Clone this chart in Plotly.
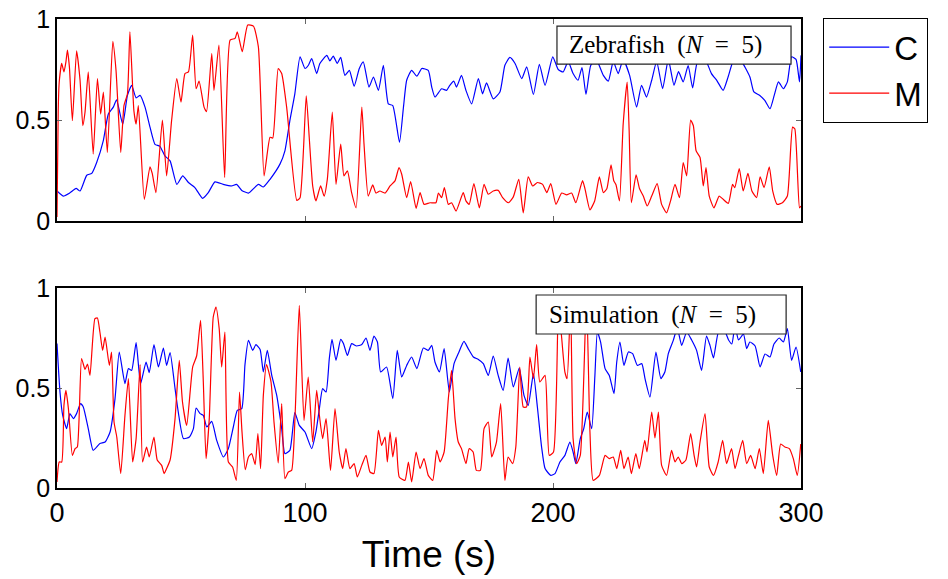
import plotly.graph_objects as go

# ---- Zebrafish experiment (N = 5): time (s) and fraction in each state ----
zf_c_t = [0, 2.5, 5.2, 7.7, 9.3, 12, 14, 16, 18.7, 20.7, 22.7, 24, 26.5, 28.4, 30.1, 31.9, 33.5, 35.5, 37.5, 39.5,
          41.5, 43.5, 45.6, 48.3, 50.7, 53, 55.6, 58.7, 61, 63.7, 67, 70.4, 72.4, 74.5, 77.2, 81.2, 83.2, 85.9, 89.9,
          91.9, 93.9, 95.9, 98, 100, 101.3, 102.7, 104.7, 106, 108.8, 110, 111.4, 113, 114.4, 116.1, 117.9, 119.8,
          121.9, 123.5, 125.8, 127.6, 129.6, 131.6, 133.6, 135.4, 138.1, 139.7, 141, 143, 145.1, 147.1, 149.7, 151.1,
          152.4, 155.1, 157.1, 158.4, 160, 161.1, 163.1, 164.9, 167.2, 169.9, 171.6, 173.2, 175.9, 178.6, 180.6,
          182.6, 184.7, 187.4, 189.4, 192.1, 194.5, 196.8, 199.9, 202.1, 204.1, 206.1, 208.1, 210.1, 211.7, 213.3,
          215.2, 217.4, 220.3, 222.3, 224.3, 226.3, 228.3, 230.9, 233.7, 235.7, 237.7, 239.8, 241.8, 244.2, 246.5,
          248.8, 250.6, 252.5, 254.5, 256.3, 258.3, 261.3, 263.9, 266.2, 268.6, 270.6, 272.6, 274, 276, 279.4, 281,
          283.4, 285.4, 287.5, 289.2, 290.9, 292.9, 294.5, 296.2, 298, 299.4, 300]
zf_c_v = [0.149, 0.124, 0.14, 0.162, 0.149, 0.227, 0.236, 0.29, 0.40, 0.53, 0.564, 0.6, 0.48, 0.622, 0.672, 0.61,
          0.622, 0.564, 0.465, 0.38, 0.37, 0.323, 0.298, 0.182, 0.224, 0.191, 0.166, 0.113, 0.141, 0.194, 0.182,
          0.174, 0.182, 0.152, 0.139, 0.182, 0.169, 0.207, 0.282, 0.348, 0.497, 0.63, 0.813, 0.755, 0.77, 0.804,
          0.73, 0.78, 0.82, 0.793, 0.816, 0.78, 0.81, 0.721, 0.746, 0.667, 0.755, 0.788, 0.663, 0.713, 0.647, 0.771,
          0.58, 0.572, 0.39, 0.564, 0.697, 0.746, 0.717, 0.755, 0.746, 0.663, 0.614, 0.655, 0.647, 0.672, 0.693,
          0.663, 0.721, 0.647, 0.58, 0.705, 0.63, 0.684, 0.605, 0.639, 0.771, 0.81, 0.78, 0.705, 0.763, 0.627,
          0.776, 0.672, 0.813, 0.75, 0.738, 0.79, 0.73, 0.697, 0.76, 0.627, 0.77, 0.8, 0.721, 0.693, 0.79, 0.73,
          0.8, 0.721, 0.564, 0.672, 0.614, 0.697, 0.79, 0.655, 0.8, 0.672, 0.74, 0.689, 0.77, 0.659, 0.79, 0.8,
          0.73, 0.693, 0.647, 0.713, 0.79, 0.8, 0.79, 0.713, 0.639, 0.622, 0.597, 0.556, 0.622, 0.689, 0.655, 0.689,
          0.813, 0.8, 0.689, 0.82]

zf_m_t = [0, 0.5, 0.9, 1.9, 2.8, 3.6, 4.2, 5, 6.2, 7.9, 9.3, 10.4, 11.3, 12.6, 14.6, 16.3, 17.6, 18.7, 20.3, 22.5,
          23.8, 25.7, 27, 28.4, 29.4, 31, 31.9, 32.8, 35.2, 37.5, 38.4, 39.9, 42.5, 44.2, 46.2, 48.3, 50, 51.6, 53,
          54.7, 56.1, 57.3, 59.3, 60.3, 62.4, 63.3, 65.3, 67.6, 69.8, 71.8, 72.7, 74.7, 76.9, 79.2, 81.2, 83.5, 85.9,
          87, 89.2, 90.6, 92.6, 96.7, 98, 100.5, 101.7, 103.1, 104.4, 106.3, 107.7, 109, 111, 112.5, 114.4, 115.7,
          117.1, 118.8, 120.6, 122.9, 123.8, 125.5, 127.3, 128.6, 130.2, 132.3, 134.3, 136.3, 137.9, 139, 141, 142.6,
          144.8, 146.4, 148, 150.4, 152.8, 153.8, 155.1, 156.2, 157.8, 159.1, 160.9, 163.8, 164.9, 166.2, 168.1,
          170.3, 172.2, 173.9, 175.9, 177.9, 179.7, 182, 184, 186.2, 188, 190, 191.8, 193.7, 195.8, 197.5, 199.1,
          201.2, 203.5, 205.5, 207.5, 209.2, 211.9, 212.9, 214.9, 216.8, 218.7, 220.3, 221.7, 223.4, 224.5, 225.4,
          226.8, 228.3, 229.9, 230.7, 231.6, 233.5, 234.9, 236.4, 238, 239.8, 242, 243.8, 245.8, 247.4, 249.2, 251,
          252.5, 253.9, 255.5, 256.6, 257.7, 259.3, 260.6, 261.7, 263, 264.9, 267, 268.6, 270.7, 272.4, 273.3,
          275.1, 276.7, 278.6, 280.2, 282.1, 283.5, 285.1, 287.2, 288.6, 290.4, 292.5, 294.5, 296.6, 297.5, 299.4,
          300]
zf_m_v = [0.02, 0.55, 0.688, 0.78, 0.738, 0.788, 0.846, 0.763, 0.497, 0.843, 0.697, 0.472, 0.539, 0.738, 0.332,
          0.705, 0.53, 0.638, 0.34, 0.889, 0.746, 0.34, 0.572, 0.63, 0.937, 0.547, 0.48, 0.572, 0.108, 0.269, 0.236,
          0.141, 0.5, 0.224, 0.497, 0.705, 0.589, 0.73, 0.738, 0.92, 0.655, 0.693, 0.564, 0.542, 0.829, 0.647,
          0.871, 0.216, 0.896, 0.904, 0.937, 0.838, 0.97, 0.965, 0.862, 0.224, 0.415, 0.411, 0.755, 0.73, 0.564,
          0.103, 0.116, 0.62, 0.415, 0.174, 0.1, 0.174, 0.124, 0.207, 0.539, 0.182, 0.381, 0.224, 0.249, 0.141,
          0.066, 0.564, 0.381, 0.124, 0.179, 0.139, 0.149, 0.139, 0.174, 0.199, 0.265, 0.232, 0.116, 0.196, 0.063,
          0.141, 0.083, 0.091, 0.091, 0.139, 0.116, 0.166, 0.083, 0.091, 0.05, 0.141, 0.1, 0.083, 0.186, 0.066,
          0.182, 0.133, 0.149, 0.152, 0.116, 0.091, 0.12, 0.207, 0.041, 0.219, 0.174, 0.191, 0.182, 0.141, 0.186,
          0.083, 0.139, 0.13, 0.139, 0.091, 0.2, 0.16, 0.056, 0.1, 0.219, 0.141, 0.16, 0.279, 0.2, 0.18, 0.1, 0.48,
          0.688, 0.45, 0.091, 0.229, 0.16, 0.124, 0.075, 0.124, 0.186, 0.083, 0.041, 0.1, 0.182, 0.116, 0.29,
          0.224, 0.5, 0.472, 0.348, 0.315, 0.174, 0.265, 0.124, 0.066, 0.124, 0.108, 0.088, 0.182, 0.166, 0.26,
          0.149, 0.236, 0.149, 0.116, 0.219, 0.166, 0.269, 0.149, 0.083, 0.091, 0.124, 0.465, 0.457, 0.066, 0.075]

# ---- Simulation (N = 5) ----
sim_c_t = [0, 1.2, 2.3, 3.9, 5.2, 6.6, 7.9, 9.5, 10.6, 12.6, 14.6, 17.3, 19.4, 21.4, 23.4, 25.1, 27.4, 28.8, 30.1,
           31.9, 33.7, 35.9, 37.2, 39.1, 40.9, 42.9, 44.2, 45.6, 47.6, 48.9, 51, 53.4, 55, 56.1, 57.7, 59, 60.4,
           62.4, 64.4, 67.1, 69.1, 71.1, 72.7, 74.5, 75.8, 77.2, 78.9, 80.2, 81.9, 83.2, 84.8, 86.6, 88.6, 90.6,
           91.9, 93.9, 95.9, 97.7, 100, 102.7, 104.4, 105.8, 107.1, 108.5, 109.8, 110.9, 112.5, 114.4, 115.5, 117.1,
           118.8, 120.8, 122.9, 124.6, 126.2, 127.8, 129.2, 130.5, 132.9, 135.4, 137.2, 139, 141, 143, 145.1, 147.7,
           149.7, 151.1, 152.4, 154.2, 156.1, 158.2, 160.1, 161.8, 164.1, 165.8, 167.9, 169.9, 171.9, 173.9, 175.9,
           177.9, 179.9, 181.9, 184, 186.4, 188.3, 190, 192.1, 193.7, 195.4, 196.8, 199.1, 200.8, 202.8, 204.8,
           206.8, 208.1, 209.2, 211, 212.4, 213.8, 215.6, 216.9, 217.9, 219.2, 221, 222.7, 224.6, 225.7, 227, 228.6,
           230.4, 232.1, 234, 235.8, 237.1, 239.1, 241.5, 243.5, 245.1, 246.5, 248.5, 250.1, 251.9, 253.9, 255.9,
           257.9, 259.9, 261.9, 263.3, 264.7, 266.7, 268.8, 270.8, 272.1, 273.4, 274.8, 276.8, 278.1, 279.4, 281.5,
           283.5, 285.5, 287.5, 289.1, 291.2, 292.9, 294.5, 296.2, 298, 299.9]
sim_c_v = [0.722, 0.48, 0.363, 0.297, 0.372, 0.347, 0.372, 0.422, 0.405, 0.297, 0.188, 0.222, 0.23, 0.28, 0.447,
           0.68, 0.522, 0.597, 0.588, 0.727, 0.522, 0.63, 0.577, 0.717, 0.605, 0.7, 0.613, 0.677, 0.497, 0.38, 0.247,
           0.255, 0.297, 0.4, 0.372, 0.363, 0.305, 0.333, 0.238, 0.155, 0.197, 0.305, 0.388, 0.397, 0.617, 0.738,
           0.688, 0.717, 0.693, 0.58, 0.688, 0.563, 0.463, 0.297, 0.172, 0.188, 0.377, 0.313, 0.28, 0.197, 0.28,
           0.397, 0.497, 0.48, 0.647, 0.743, 0.638, 0.743, 0.722, 0.663, 0.722, 0.71, 0.717, 0.75, 0.688, 0.76, 0.73,
           0.58, 0.605, 0.447, 0.688, 0.555, 0.613, 0.655, 0.597, 0.7, 0.688, 0.713, 0.63, 0.58, 0.697, 0.48, 0.622,
           0.672, 0.733, 0.697, 0.655, 0.643, 0.622, 0.563, 0.66, 0.563, 0.488, 0.65, 0.505, 0.6, 0.463, 0.413,
           0.572, 0.405, 0.205, 0.097, 0.063, 0.072, 0.13, 0.163, 0.23, 0.18, 0.122, 0.247, 0.297, 0.38, 0.297,
           0.563, 0.78, 0.73, 0.597, 0.563, 0.472, 0.63, 0.73, 0.613, 0.68, 0.672, 0.613, 0.622, 0.547, 0.455, 0.68,
           0.547, 0.58, 0.672, 0.738, 0.8, 0.713, 0.78, 0.74, 0.688, 0.588, 0.76, 0.713, 0.65, 0.78, 0.797, 0.74,
           0.72, 0.81, 0.74, 0.77, 0.697, 0.73, 0.71, 0.605, 0.67, 0.655, 0.72, 0.75, 0.73, 0.797, 0.638, 0.705,
           0.58]

sim_m_t = [0, 0.9, 1.9, 2.8, 3.6, 4.6, 6.2, 7.3, 8.2, 9.9, 11.3, 12.3, 13.3, 15.3, 16.3, 17.3, 18.4, 19.4, 21.1, 22,
           23, 24.1, 25.7, 27.4, 28.8, 30.5, 31.9, 33.5, 34.5, 36.1, 37.2, 39.1, 40.4, 42.2, 43.2, 44.2, 45.6, 47.6,
           49.3, 50.6, 52.3, 54.7, 56.3, 57.9, 59, 60.1, 61.4, 63, 64.1, 65.4, 66.4, 67.7, 69.1, 70.8, 72.3, 73.6,
           74.6, 75.9, 77.2, 78.5, 79.9, 81, 82.1, 83.2, 84.5, 86.3, 87.5, 89.2, 90.6, 91.9, 93.3, 94.6, 96, 97.7,
           99.6, 101.3, 103.1, 104.7, 105.8, 107.1, 108.5, 110.3, 112.1, 113.8, 115.2, 116.5, 118.1, 119.8, 121.1,
           122.9, 124.6, 126.2, 127.8, 129.6, 130.9, 132.3, 133.2, 134.3, 135.4, 136.7, 138, 140.3, 141.7, 143,
           144.8, 146.4, 148, 149.7, 151.5, 153.1, 154.5, 156.1, 157.8, 159.1, 160.5, 161.8, 163.1, 164.9, 166.2,
           167.8, 169.1, 170.7, 172.2, 173.9, 175.3, 177.2, 178.9, 180.6, 181.9, 183.7, 185, 186.6, 188, 189.3,
           190.7, 192.1, 193.4, 194.7, 196.8, 198.5, 200.2, 202.2, 203.5, 204.8, 205.7, 207.1, 208.1, 209.5, 211,
           213.5, 214.9, 216.2, 218.7, 221, 222.7, 224.3, 225.7, 227.3, 228.6, 230.3, 231.6, 233.4, 234.8, 237,
           237.9, 239.8, 241.1, 242.5, 243.8, 245.8, 247.8, 249.2, 250.5, 251.9, 253.6, 255.5, 256.9, 257.9, 259.3,
           261.3, 263, 264.7, 266.6, 268.4, 270, 272, 273.4, 274.8, 276.5, 278.1, 279.7, 281.5, 283.2, 284.8, 286.8,
           288.6, 290.2, 291.8, 293.5, 295.3, 296.9, 298.5, 299.9]
sim_m_v = [0.03, 0.13, 0.13, 0.413, 0.488, 0.397, 0.163, 0.197, 0.205, 0.647, 0.593, 0.62, 0.563, 0.847, 0.85,
           0.78, 0.688, 0.755, 0.613, 0.68, 0.33, 0.255, 0.072, 0.363, 0.547, 0.13, 0.247, 0.617, 0.13, 0.205, 0.155,
           0.255, 0.14, 0.113, 0.072, 0.097, 0.14, 0.347, 0.638, 0.43, 0.313, 0.605, 0.66, 0.838, 0.53, 0.147, 0.347,
           0.855, 0.905, 0.797, 0.605, 0.78, 0.13, 0.105, 0.038, 0.48, 0.28, 0.092, 0.155, 0.172, 0.117, 0.272,
           0.097, 0.463, 0.617, 0.53, 0.33, 0.125, 0.422, 0.047, 0.08, 0.088, 0.363, 0.913, 0.338, 0.555, 0.23,
           0.488, 0.363, 0.247, 0.347, 0.088, 0.397, 0.18, 0.097, 0.197, 0.097, 0.122, 0.055, 0.113, 0.163, 0.08,
           0.072, 0.288, 0.213, 0.255, 0.13, 0.28, 0.155, 0.255, 0.055, 0.038, 0.13, 0.03, 0.18, 0.097, 0.147,
           0.063, 0.038, 0.188, 0.13, 0.18, 0.447, 0.588, 0.347, 0.23, 0.197, 0.122, 0.197, 0.18, 0.088, 0.088,
           0.297, 0.33, 0.155, 0.23, 0.422, 0.038, 0.155, 0.122, 0.205, 0.605, 0.405, 0.405, 0.655, 0.547, 0.717,
           0.53, 0.563, 0.163, 0.18, 0.92, 0.75, 0.58, 0.547, 0.93, 0.247, 0.122, 0.163, 0.95, 0.28, 0.038, 0.063,
           0.163, 0.147, 0.155, 0.097, 0.188, 0.097, 0.155, 0.072, 0.172, 0.097, 0.238, 0.18, 0.38, 0.25, 0.38,
           0.113, 0.063, 0.188, 0.13, 0.155, 0.122, 0.14, 0.272, 0.163, 0.105, 0.23, 0.372, 0.105, 0.063, 0.13,
           0.238, 0.122, 0.197, 0.097, 0.163, 0.238, 0.122, 0.163, 0.097, 0.197, 0.072, 0.338, 0.163, 0.063, 0.22,
           0.205, 0.197, 0.147, 0.063, 0.22]

x_ticks = [0, 100, 200, 300]
y_ticks = [0, 0.5, 1]
y_tick_text = ["0", "0.5", "1"]
state_names = ["C", "M"]
state_colors = ["#0000ff", "#ff0000"]
panel_titles = ["Zebrafish&nbsp;&nbsp;(<i>N</i>&nbsp;&nbsp;=&nbsp;&nbsp;5)",
                "Simulation&nbsp;&nbsp;(<i>N</i>&nbsp;&nbsp;=&nbsp;&nbsp;5)"]

fig = go.Figure()

panels = [
    ("x", "y", [(zf_c_t, zf_c_v), (zf_m_t, zf_m_v)]),
    ("x2", "y2", [(sim_c_t, sim_c_v), (sim_m_t, sim_m_v)]),
]
for p, (xa, ya, series) in enumerate(panels):
    for k, (tt, vv) in enumerate(series):
        fig.add_trace(go.Scatter(
            x=tt, y=vv, xaxis=xa, yaxis=ya, mode="lines",
            line=dict(color=state_colors[k], width=1.2, shape="spline", smoothing=0.5),
            name=state_names[k], showlegend=(p == 0),
        ))

sans = "Liberation Sans, Arial, Helvetica, sans-serif"
axis_common = dict(showline=True, linecolor="black", linewidth=1.5, mirror="allticks",
                   ticks="inside", ticklen=5, tickwidth=1, tickcolor="#666666",
                   showgrid=False, zeroline=False, fixedrange=True, automargin=False)

fig.update_layout(
    width=948, height=579,
    margin=dict(l=57, r=147, t=19, b=91, autoexpand=False),
    paper_bgcolor="white", plot_bgcolor="white",
    font=dict(family=sans, color="black"),
    xaxis=dict(domain=[0, 1], anchor="y", range=[0, 300], tickvals=x_ticks,
               showticklabels=False, **axis_common),
    yaxis=dict(domain=[0.569, 1], anchor="x", range=[0, 1], tickvals=y_ticks, ticktext=y_tick_text,
               tickfont=dict(size=25), **axis_common),
    xaxis2=dict(domain=[0, 1], anchor="y2", range=[0, 300], tickvals=x_ticks,
                tickfont=dict(size=27),
                title=dict(text="Time (s)", font=dict(size=37), standoff=14), **axis_common),
    yaxis2=dict(domain=[0, 0.4264], anchor="x2", range=[0, 1], tickvals=y_ticks, ticktext=y_tick_text,
                tickfont=dict(size=25), **axis_common),
    legend=dict(x=1.0296, y=1.0021, xanchor="left", yanchor="top",
                bordercolor="black", borderwidth=1.2, bgcolor="white",
                font=dict(size=33, family=sans), itemwidth=60, tracegroupgap=0),
)

# panel label boxes: (xref, yref, x0, x1, y0, y1)
boxes = [("x domain", "y domain", 0.672, 0.9866, 0.777, 0.965),
         ("x2 domain", "y2 domain", 0.644, 0.980, 0.770, 0.965)]
for (xr, yr, x0, x1, y0, y1), title in zip(boxes, panel_titles):
    fig.add_shape(type="rect", xref=xr, yref=yr, x0=x0, x1=x1, y0=y0, y1=y1,
                  line=dict(color="#222222", width=1.2), fillcolor="white", layer="above")
    fig.add_annotation(xref=xr, yref=yr, x=(x0 + x1) / 2 - 0.011, y=(y0 + y1) / 2,
                       text=title, showarrow=False, xanchor="center", yanchor="middle",
                       font=dict(family="Liberation Serif, Times New Roman, serif", size=25, color="black"))

fig.write_html("out.html")
